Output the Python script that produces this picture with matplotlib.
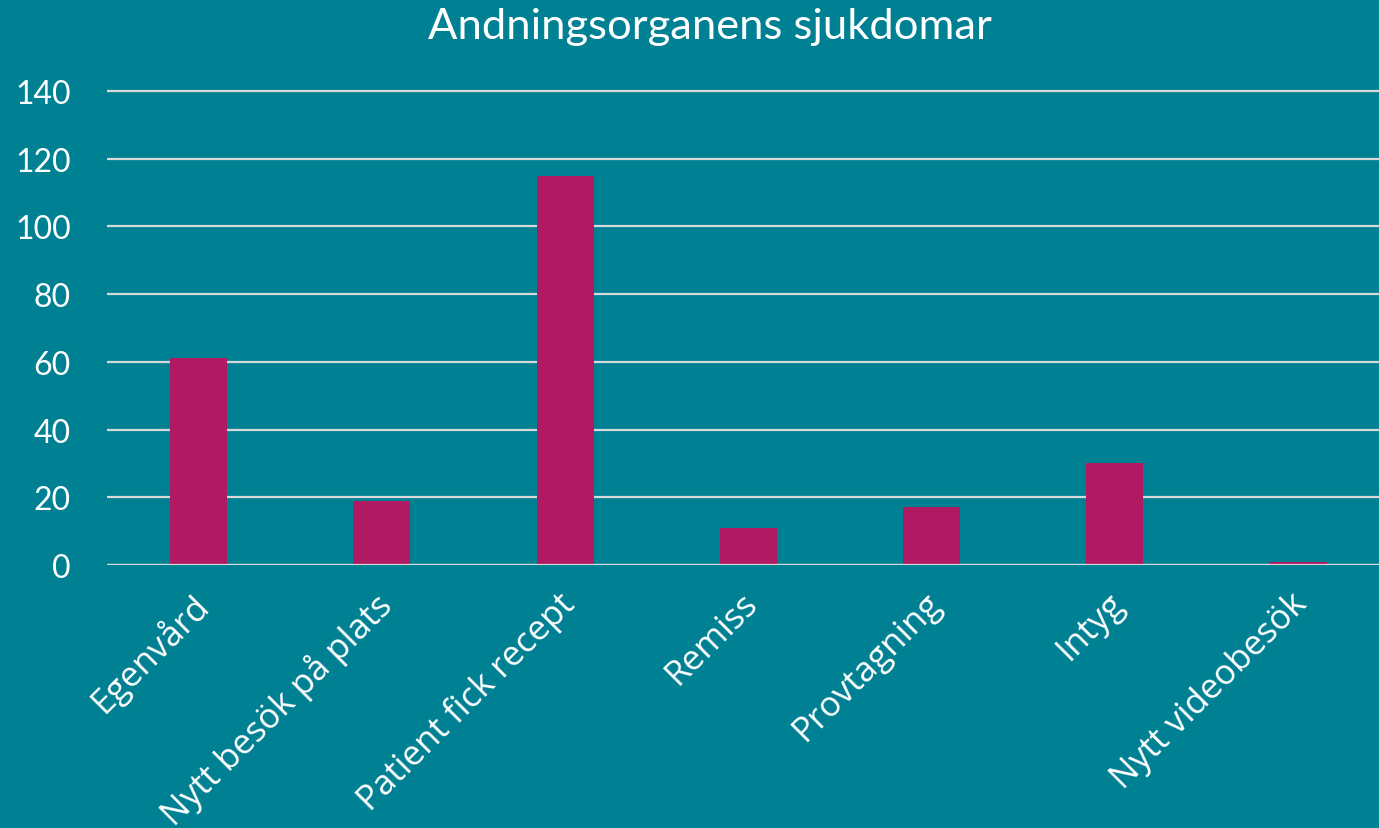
import matplotlib
matplotlib.use("Agg")
import matplotlib.pyplot as plt
from matplotlib.transforms import ScaledTranslation

categories = ["Egenvård", "Nytt besök på plats", "Patient fick recept", "Remiss",
              "Provtagning", "Intyg", "Nytt videobesök"]
values = [61, 19, 115, 11, 17, 30, 1]
yticks = [0, 20, 40, 60, 80, 100, 120, 140]
title = "Andningsorganens sjukdomar"

BG = "#008093"
BAR = "#B01A62"
GRID = "#D9D9D9"

W, H = 1379, 829
left_px = 106.8
cat_px = 183.3
ax_w_px = cat_px * len(categories)
y0_px, y140_px = 566, 92
ymax = 141
ax_top_px = y0_px - (y0_px - y140_px) * ymax / 140

fig = plt.figure(figsize=(W/100, H/100), dpi=100, facecolor=BG)
ax = fig.add_axes([left_px/W, (H-y0_px)/H, ax_w_px/W, (y0_px-ax_top_px)/H])
ax.set_facecolor(BG)

x = list(range(len(categories)))
ax.bar(x, values, width=0.311, color=BAR, zorder=3)
ax.set_xlim(-0.5, len(categories) - 0.5)
ax.set_ylim(0, ymax)
ax.set_yticks(yticks)
ax.yaxis.grid(True, color=GRID, linewidth=1.6, zorder=0)
ax.axhline(0, color=GRID, linewidth=1.6, zorder=4)
for s in ax.spines.values():
    s.set_visible(False)
ax.tick_params(axis="both", length=0, colors="white")
ax.set_yticklabels([str(t) for t in yticks], fontsize=23, family="Lato", color="white")
ax.tick_params(axis="y", pad=26)
ax.set_xticks(x)
ax.set_xticklabels(categories, rotation=45, ha="right", rotation_mode="anchor",
                   fontsize=25, family="Open Sans", color="white")
ax.tick_params(axis="x", pad=15)
shift = ScaledTranslation(-8/100, 0, fig.dpi_scale_trans)
for lab in ax.get_xticklabels():
    lab.set_transform(lab.get_transform() + shift)

fig.text(710/W, 1 - 27/H, title, ha="center", va="center", fontsize=31.3,
         family="Lato", color="white")

fig.savefig("out.png", dpi=100, facecolor=BG)
